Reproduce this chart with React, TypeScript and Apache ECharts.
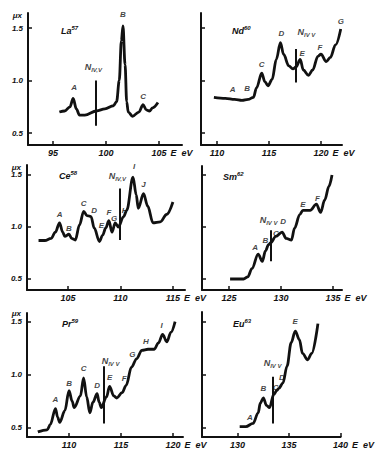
import React, { useEffect, useRef } from "react";
import * as echarts from "echarts";

// ---------- data (energy in eV, absorption μx) ----------
const LA_E = [95.6, 96.1, 96.6, 96.9, 97.2, 97.5, 98.0, 99.1, 99.9, 100.7, 101.0, 101.25, 101.45, 101.6, 101.8, 101.95, 102.1, 102.5, 103.1, 103.5, 103.8, 104.1, 104.4, 104.9];
const LA_MU = [0.70, 0.71, 0.75, 0.83, 0.73, 0.67, 0.67, 0.71, 0.73, 0.76, 0.80, 1.00, 1.38, 1.52, 1.15, 0.80, 0.70, 0.66, 0.70, 0.77, 0.72, 0.71, 0.74, 0.79];
const LA_PEAKS = ["A", "B", "C"];
const LA_PEAK_E = [97.0, 101.6, 103.5];
const LA_PEAK_MU = [0.93, 1.63, 0.85];
const LA_EDGE = 99.06;
const LA_EDGE_MU = [0.57, 1.0];
const LA_EDGE_LABEL = [98.8, 1.13];
const LA_TICKS = [95, 100, 105];

const ND_E = [109.7, 110.8, 111.7, 112.4, 113.0, 113.5, 113.8, 114.3, 114.6, 114.9, 115.3, 115.7, 116.1, 116.4, 116.9, 117.3, 117.6, 118.0, 118.3, 118.8, 119.2, 119.7, 120.0, 120.5, 120.9, 121.4, 121.9];
const ND_MU = [0.84, 0.83, 0.82, 0.81, 0.82, 0.84, 0.93, 1.07, 0.99, 0.95, 1.01, 1.20, 1.36, 1.25, 1.14, 1.11, 1.13, 1.20, 1.10, 1.05, 1.10, 1.23, 1.25, 1.18, 1.22, 1.34, 1.49];
const ND_PEAKS = ["A", "B", "C", "D", "E", "F", "G"];
const ND_PEAK_E = [111.5, 112.9, 114.3, 116.2, 118.2, 119.9, 121.9];
const ND_PEAK_MU = [0.91, 0.92, 1.15, 1.45, 1.26, 1.31, 1.56];
const ND_EDGE = 117.6;
const ND_EDGE_MU = [0.98, 1.30];
const ND_EDGE_LABEL = [118.6, 1.46];
const ND_TICKS = [110, 115, 120];

const CE_E = [102.2, 102.8, 103.4, 103.8, 104.2, 104.5, 104.7, 105.1, 105.35, 105.7, 106.1, 106.5, 106.8, 107.2, 107.5, 108.0, 108.3, 108.6, 108.9, 109.2, 109.5, 109.8, 110.3, 110.6, 111.2, 111.5, 111.7, 112.2, 112.6, 113.1, 113.8, 114.4, 115.0];
const CE_MU = [0.87, 0.87, 0.89, 0.95, 1.04, 0.95, 0.91, 0.93, 0.89, 0.875, 1.02, 1.15, 1.11, 1.10, 0.99, 0.86, 0.92, 0.99, 1.06, 0.95, 1.04, 1.00, 1.10, 1.16, 1.48, 1.31, 1.18, 1.32, 1.20, 1.04, 1.05, 1.12, 1.24];
const CE_PEAKS = ["A", "B", "C", "D", "E", "F", "G", "H", "I", "J"];
const CE_PEAK_E = [104.2, 105.1, 106.5, 107.5, 108.2, 108.9, 109.4, 110.4, 111.3, 112.2];
const CE_PEAK_MU = [1.12, 0.99, 1.23, 1.16, 1.01, 1.14, 1.08, 1.16, 1.58, 1.41];
const CE_EDGE = 109.9;
const CE_EDGE_MU = [0.875, 1.37];
const CE_EDGE_LABEL = [109.7, 1.49];
const CE_TICKS = [105, 110, 115];

const SM_E = [125.1, 126.4, 126.8, 127.2, 127.8, 128.2, 128.5, 128.8, 129.0, 129.5, 130.1, 130.5, 131.0, 131.3, 131.8, 132.1, 132.8, 133.4, 133.8, 134.2, 134.6, 134.9];
const SM_MU = [0.50, 0.50, 0.52, 0.60, 0.74, 0.67, 0.77, 0.83, 0.85, 0.91, 0.95, 0.89, 0.875, 0.99, 1.12, 1.16, 1.16, 1.22, 1.14, 1.26, 1.39, 1.50];
const SM_PEAKS = ["A", "B", "C", "D", "E", "F"];
const SM_PEAK_E = [127.5, 128.5, 129.5, 130.2, 132.1, 133.5];
const SM_PEAK_MU = [0.80, 0.875, 0.94, 1.05, 1.22, 1.27];
const SM_EDGE = 129.0;
const SM_EDGE_MU = [0.67, 0.97];
const SM_EDGE_LABEL = [128.8, 1.07];
const SM_TICKS = [125, 130, 135];

const PR_E = [107.0, 107.9, 108.2, 108.7, 108.9, 109.1, 109.6, 110.0, 110.3, 110.5, 111.1, 111.4, 111.7, 112.0, 112.3, 112.7, 112.9, 113.1, 113.6, 113.9, 114.3, 114.6, 115.1, 115.5, 116.0, 116.5, 117.0, 117.6, 118.2, 118.6, 119.0, 119.4, 119.8, 120.2];
const PR_MU = [0.46, 0.48, 0.53, 0.68, 0.60, 0.55, 0.66, 0.85, 0.75, 0.69, 0.80, 0.97, 0.79, 0.64, 0.74, 0.82, 0.74, 0.69, 0.79, 0.89, 0.80, 0.78, 0.83, 0.90, 1.07, 1.15, 1.23, 1.24, 1.24, 1.30, 1.38, 1.31, 1.40, 1.50];
const PR_PEAKS = ["A", "B", "C", "D", "E", "F", "G", "H", "I"];
const PR_PEAK_E = [108.7, 110.0, 111.4, 112.7, 113.9, 115.3, 116.1, 117.4, 118.9];
const PR_PEAK_MU = [0.77, 0.92, 1.06, 0.90, 0.97, 0.96, 1.19, 1.31, 1.46];
const PR_EDGE = 113.3;
const PR_EDGE_MU = [0.54, 1.08];
const PR_EDGE_LABEL = [114.0, 1.13];
const PR_TICKS = [110, 115, 120];

const EU_E = [130.2, 130.8, 131.5, 132.0, 132.2, 132.5, 132.8, 133.1, 133.5, 133.8, 134.0, 134.4, 134.8, 135.2, 135.6, 136.0, 136.3, 136.8, 137.2, 137.8];
const EU_MU = [0.51, 0.51, 0.54, 0.64, 0.73, 0.78, 0.71, 0.69, 0.81, 0.85, 0.87, 0.92, 1.08, 1.30, 1.41, 1.33, 1.20, 1.14, 1.20, 1.48];
const EU_PEAKS = ["A", "B", "C", "D", "E"];
const EU_PEAK_E = [131.2, 132.5, 133.7, 134.3, 135.6];
const EU_PEAK_MU = [0.60, 0.87, 0.88, 0.97, 1.50];
const EU_EDGE = 133.4;
const EU_EDGE_MU = [0.54, 0.98];
const EU_EDGE_LABEL = [133.4, 1.11];
const EU_TICKS = [130, 135, 140];

const Y_TICKS = [0.5, 1.0, 1.5];

const FONT = "Liberation Sans";
const INK = "#111";

const PANELS = [
  { el: "La", z: "57", E: LA_E, MU: LA_MU, peaks: LA_PEAKS, pe: LA_PEAK_E, pm: LA_PEAK_MU, edge: LA_EDGE, edgeMu: LA_EDGE_MU, edgeLabel: LA_EDGE_LABEL, sub: "IV,V", ticks: LA_TICKS,
    grid: { left: 28, top: 13, width: 154, height: 132 }, x: [92.64, 107.17], y: [0.386, 1.643], showY: true, title: [61, 25], nameGap: -15 },
  { el: "Nd", z: "60", E: ND_E, MU: ND_MU, peaks: ND_PEAKS, pe: ND_PEAK_E, pm: ND_PEAK_MU, edge: ND_EDGE, edgeMu: ND_EDGE_MU, edgeLabel: ND_EDGE_LABEL, sub: "IV V", ticks: ND_TICKS,
    grid: { left: 201, top: 13, width: 141, height: 132 }, x: [108.46, 122.02], y: [0.386, 1.643], showY: false, title: [232, 25], nameGap: -10 },
  { el: "Ce", z: "58", E: CE_E, MU: CE_MU, peaks: CE_PEAKS, pe: CE_PEAK_E, pm: CE_PEAK_MU, edge: CE_EDGE, edgeMu: CE_EDGE_MU, edgeLabel: CE_EDGE_LABEL, sub: "IV,V", ticks: CE_TICKS,
    grid: { left: 27, top: 165, width: 158, height: 125 }, x: [101.1, 116.15], y: [0.394, 1.596], showY: true, title: [59, 170], nameGap: -3 },
  { el: "Sm", z: "62", E: SM_E, MU: SM_MU, peaks: SM_PEAKS, pe: SM_PEAK_E, pm: SM_PEAK_MU, edge: SM_EDGE, edgeMu: SM_EDGE_MU, edgeLabel: SM_EDGE_LABEL, sub: "IV V", ticks: SM_TICKS,
    grid: { left: 202, top: 166, width: 140, height: 124 }, x: [122.4, 135.86], y: [0.394, 1.587], showY: false, title: [223, 171], nameGap: -4 },
  { el: "Pr", z: "59", E: PR_E, MU: PR_MU, peaks: PR_PEAKS, pe: PR_PEAK_E, pm: PR_PEAK_MU, edge: PR_EDGE, edgeMu: PR_EDGE_MU, edgeLabel: PR_EDGE_LABEL, sub: "IV V", ticks: PR_TICKS,
    grid: { left: 27, top: 313, width: 156, height: 124 }, x: [105.96, 120.96], y: [0.412, 1.582], showY: true, title: [62, 318], nameGap: -4 },
  { el: "Eu", z: "63", E: EU_E, MU: EU_MU, peaks: EU_PEAKS, pe: EU_PEAK_E, pm: EU_PEAK_MU, edge: EU_EDGE, edgeMu: EU_EDGE_MU, edgeLabel: EU_EDGE_LABEL, sub: "IV V", ticks: EU_TICKS,
    grid: { left: 202, top: 312, width: 140, height: 125 }, x: [126.54, 140.0], y: [0.412, 1.59], showY: false, title: [233, 318], nameGap: 10 },
];

const txt = {
  color: INK,
  fontFamily: FONT,
  fontWeight: "bold" as const,
  fontStyle: "italic" as const,
  textBorderWidth: 0,
  textBorderColor: "transparent",
};

function buildOption() {
  const grid = PANELS.map((p) => ({ ...p.grid, containLabel: false }));
  const xAxis = PANELS.map((p, i) => ({
    type: "value",
    gridIndex: i,
    min: p.x[0],
    max: p.x[1],
    axisLine: { show: true, onZero: false, lineStyle: { color: INK, width: 2 } },
    axisTick: { show: true, inside: true, length: 4, customValues: p.ticks, lineStyle: { color: INK, width: 1.5 } },
    axisLabel: { show: true, customValues: p.ticks, margin: 3, fontSize: 9, ...txt },
    splitLine: { show: false },
    name: "E  eV",
    nameLocation: "end",
    nameGap: p.nameGap,
    nameTextStyle: { ...txt, fontSize: 9, align: "left", verticalAlign: "top", padding: [3, 0, 0, 0] },
  }));
  const yAxis = PANELS.map((p, i) => ({
    type: "value",
    gridIndex: i,
    min: p.y[0],
    max: p.y[1],
    axisLine: { show: true, onZero: false, lineStyle: { color: INK, width: 2 } },
    axisTick: { show: true, inside: true, length: 4, customValues: Y_TICKS, lineStyle: { color: INK, width: 1.5 } },
    axisLabel: { show: p.showY, customValues: Y_TICKS, margin: 5, fontSize: 8, ...txt, formatter: (v: number) => v.toFixed(1) },
    splitLine: { show: false },
    name: p.showY ? "μx" : "",
    nameLocation: "end",
    nameGap: -2,
    nameTextStyle: { ...txt, fontSize: 8, align: "right", verticalAlign: "middle", padding: [0, 6, 0, 0] },
  }));
  const series: any[] = [];
  PANELS.forEach((p, i) => {
    series.push({
      type: "line",
      xAxisIndex: i,
      yAxisIndex: i,
      data: p.E.map((e, j) => [e, p.MU[j]]),
      smooth: 0.35,
      smoothMonotone: "x",
      showSymbol: false,
      symbol: "none",
      itemStyle: { color: INK },
      lineStyle: { color: INK, width: 2.8 },
      markLine: {
        silent: true,
        symbol: ["none", "none"],
        label: { show: false },
        lineStyle: { color: INK, width: 2, type: "solid" },
        data: [[{ coord: [p.edge, p.edgeMu[0]] }, { coord: [p.edge, p.edgeMu[1]] }]],
      },
    });
    const labelData: any[] = p.peaks.map((name, j) => ({ name, value: [p.pe[j], p.pm[j]] }));
    labelData.push({
      name: "N",
      value: p.edgeLabel,
      label: {
        formatter: "{n|N}{s|" + p.sub + "}",
        rich: {
          n: { ...txt, fontSize: 9, lineHeight: 12 },
          s: { ...txt, fontSize: 6, lineHeight: 6, verticalAlign: "bottom" },
        },
      },
    });
    series.push({
      type: "scatter",
      xAxisIndex: i,
      yAxisIndex: i,
      symbolSize: 0,
      silent: true,
      itemStyle: { color: INK },
      data: labelData,
      label: { show: true, position: "inside", formatter: "{b}", fontSize: 8, ...txt },
    });
  });
  const title = PANELS.map((p) => ({
    text: "{a|" + p.el + "}{b|" + p.z + "}",
    left: p.title[0],
    top: p.title[1],
    padding: 0,
    textStyle: {
      rich: {
        a: { ...txt, fontSize: 9, lineHeight: 12 },
        b: { ...txt, fontSize: 6, lineHeight: 6, verticalAlign: "top" },
      },
    },
  }));
  return { animation: false, backgroundColor: "#fff", title, grid, xAxis, yAxis, series };
}

export default function App() {
  const ref = useRef<HTMLDivElement>(null);
  useEffect(() => {
    if (!ref.current) return;
    const chart = echarts.init(ref.current, undefined, { renderer: "svg" });
    chart.setOption(buildOption() as any);
    return () => chart.dispose();
  }, []);
  return <div ref={ref} style={{ position: "absolute", left: 0, top: 0, width: 375, height: 452 }} />;
}
